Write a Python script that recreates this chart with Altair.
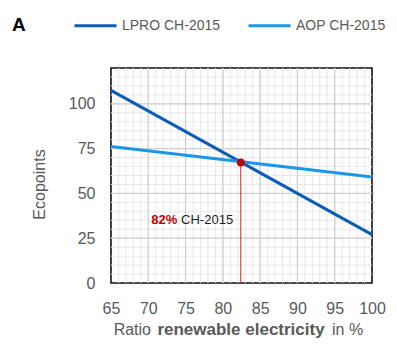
import altair as alt
import pandas as pd

# Series (straight lines read at the ends of the x range)
ratio = [65, 100]
lpro = [107.5, 27.0]
aop = [76.2, 59.2]
series_names = ["LPRO CH-2015", "AOP CH-2015"]
series_colors = ["#0c5db8", "#1b97e8"]

# Current mix marker
mix_x = [82.4]
mix_y = [67.3]

# Grid / ticks
x_ticks = [65, 70, 75, 80, 85, 90, 95, 100]
y_ticks = [0, 25, 50, 75, 100]
x_minor = list(range(66, 100))
y_minor = list(range(5, 120, 5))
x_major_grid = [70, 75, 80, 85, 90, 95]
y_major_grid = [25, 50, 75, 100]

FONT = "Liberation Sans"
GRAY = "#595959"

W, H = 261, 215

lines_df = pd.DataFrame({
    "ratio": ratio * 2,
    "value": lpro + aop,
    "series": [series_names[0]] * 2 + [series_names[1]] * 2,
})

xs = alt.Scale(domain=[65, 100], nice=False, zero=False)
ys = alt.Scale(domain=[0, 120], nice=False)

x_axis = alt.Axis(values=x_ticks, title=None, grid=False, ticks=False, domain=False,
                  labelFlush=False, labelOverlap=False,
                  labelFont=FONT, labelFontSize=16, labelColor=GRAY, labelPadding=17)
y_axis = alt.Axis(values=y_ticks, title="Ecopoints", grid=False, ticks=False, domain=False,
                  labelFlush=False, labelOverlap=False,
                  labelFont=FONT, labelFontSize=16, labelColor=GRAY, labelPadding=16,
                  titleFont=FONT, titleFontSize=16, titleFontWeight="normal", titleColor=GRAY,
                  titleX=-72, titleY=116, titleAngle=-90, titleBaseline="middle",
                  titleAlign="center")

minor_x = alt.Chart(pd.DataFrame({"v": x_minor})).mark_rule(color="#e8e8e8", strokeWidth=1).encode(
    x=alt.X("v:Q", scale=xs, axis=x_axis))
minor_y = alt.Chart(pd.DataFrame({"v": y_minor})).mark_rule(color="#e8e8e8", strokeWidth=1).encode(
    y=alt.Y("v:Q", scale=ys, axis=y_axis))
major_x = alt.Chart(pd.DataFrame({"v": x_major_grid})).mark_rule(color="#d0d0d0", strokeWidth=1.3).encode(
    x=alt.X("v:Q", scale=xs, axis=x_axis))
major_y = alt.Chart(pd.DataFrame({"v": y_major_grid})).mark_rule(color="#d0d0d0", strokeWidth=1.3).encode(
    y=alt.Y("v:Q", scale=ys, axis=y_axis))

lines = alt.Chart(lines_df).mark_line(strokeWidth=3).encode(
    x=alt.X("ratio:Q", scale=xs, axis=x_axis),
    y=alt.Y("value:Q", scale=ys, axis=y_axis),
    color=alt.Color("series:N", scale=alt.Scale(domain=series_names, range=series_colors),
                    sort=series_names,
                    legend=alt.Legend(title=None, orient="none", legendX=-38, legendY=-65,
                                      direction="horizontal", columns=2, columnPadding=21,
                                      symbolType="stroke", symbolSize=1764, symbolStrokeWidth=3,
                                      labelOffset=4, labelFont=FONT, labelFontSize=14,
                                      labelColor=GRAY)),
)

mix_df = pd.DataFrame({"x": mix_x, "y": mix_y, "y0": [0]})
vline = alt.Chart(mix_df).mark_rule(color="#e02020", strokeWidth=1).encode(
    x=alt.X("x:Q", scale=xs, axis=x_axis), y=alt.Y("y:Q", scale=ys, axis=y_axis), y2="y0:Q")
dot = alt.Chart(mix_df).mark_circle(color="#c00000", opacity=1, size=60).encode(
    x=alt.X("x:Q", scale=xs, axis=x_axis), y=alt.Y("y:Q", scale=ys, axis=y_axis))

ann_df = pd.DataFrame({"x": [70.4], "y": [35.3], "t": ["82%"]})
ann_df2 = pd.DataFrame({"x": [74.4], "y": [35.3], "t": ["CH-2015"]})
ann1 = alt.Chart(ann_df).mark_text(align="left", baseline="middle", font=FONT, fontSize=13,
                                   fontWeight="bold", color="#c00000").encode(
    x=alt.X("x:Q", scale=xs, axis=x_axis), y=alt.Y("y:Q", scale=ys, axis=y_axis), text="t:N")
ann2 = alt.Chart(ann_df2).mark_text(align="left", baseline="middle", font=FONT, fontSize=13,
                                    color="#222222").encode(
    x=alt.X("x:Q", scale=xs, axis=x_axis), y=alt.Y("y:Q", scale=ys, axis=y_axis), text="t:N")

# Panel letter and mixed-weight x title
letter = alt.Chart(pd.DataFrame({"t": ["A"]})).mark_text(
    align="left", baseline="middle", font=FONT, fontSize=19, fontWeight="bold", color="#000000").encode(
    x=alt.value(-99), y=alt.value(-43), text="t:N")
TY = 330 - 68
t1 = alt.Chart(pd.DataFrame({"t": ["Ratio"]})).mark_text(
    align="right", baseline="middle", font=FONT, fontSize=16, color=GRAY).encode(
    x=alt.value(151 - 111), y=alt.value(TY), text="t:N")
t2 = alt.Chart(pd.DataFrame({"t": ["renewable electricity"]})).mark_text(
    align="center", baseline="middle", font=FONT, fontSize=17, fontWeight="bold", color=GRAY).encode(
    x=alt.value(241 - 111), y=alt.value(TY), text="t:N")
t3 = alt.Chart(pd.DataFrame({"t": ["in %"]})).mark_text(
    align="left", baseline="middle", font=FONT, fontSize=16, color=GRAY).encode(
    x=alt.value(332 - 111), y=alt.value(TY), text="t:N")

chart = alt.layer(minor_x, minor_y, major_x, major_y, lines, vline, dot, ann1, ann2,
                  letter, t1, t2, t3).properties(
    width=W, height=H,
    background="white",
    autosize=alt.AutoSizeParams(type="none"),
    padding={"left": 103, "top": 60, "right": 17, "bottom": 57},
).configure_view(stroke="#111111", strokeWidth=1.6)

chart.save("out.html", embed_options={"renderer": "svg", "actions": False})
